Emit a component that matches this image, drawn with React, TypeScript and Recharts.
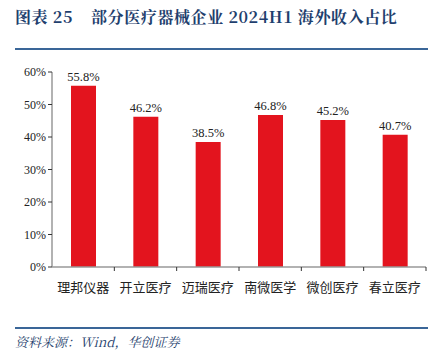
import React from 'react';
import { BarChart, Bar, XAxis, YAxis, LabelList } from 'recharts';

// 公司名称与2024H1海外收入占比(%)
const companies = ['理邦仪器', '开立医疗', '迈瑞医疗', '南微医学', '微创医疗', '春立医疗'];
const overseasShare = [55.8, 46.2, 38.5, 46.8, 45.2, 40.7];
const yTicks = [0, 10, 20, 30, 40, 50, 60];

const chartData = companies.map((name, i) => ({ name, value: overseasShare[i] }));

const serif = '"Times New Roman", "Liberation Serif", "DejaVu Serif", serif';
const sans = '"Noto Sans CJK SC", "Noto Sans", sans-serif';

const App: React.FC = () => {
  return (
    <div style={{ position: 'absolute', left: 0, top: 0, width: 435, height: 353, background: '#fff', overflow: 'hidden' }}>
      {/* 标题 */}
      <div
        style={{
          position: 'absolute',
          left: 15,
          top: 5,
          fontFamily: '"Noto Serif CJK SC", "Noto Sans CJK SC", serif',
          fontWeight: 700,
          fontSize: 16,
          letterSpacing: 0.6,
          color: '#1f3f6e',
          whiteSpace: 'nowrap',
        }}
      >
        图表 25<span style={{ display: 'inline-block', width: 18 }} />部分医疗器械企业 2024H1 海外收入占比
      </div>
      <div style={{ position: 'absolute', left: 15, top: 48, width: 413, height: 2, background: '#3a6698' }} />

      <div style={{ position: 'absolute', left: 0, top: 0 }}>
        <BarChart
          width={435}
          height={353}
          data={chartData}
          margin={{ top: 72, right: 9, bottom: 56, left: 12 }}
        >
          <YAxis
            width={40}
            domain={[0, 60]}
            ticks={yTicks}
            interval={0}
            tickFormatter={(v: number) => `${v}%`}
            axisLine={{ stroke: '#999999', strokeWidth: 1.5 }}
            tickLine={{ stroke: '#333333' }}
            tickSize={4}
            tick={{ fill: '#222222', fontSize: 12, fontFamily: serif }}
          />
          <XAxis
            dataKey="name"
            height={30}
            interval={0}
            axisLine={{ stroke: '#999999', strokeWidth: 1.5 }}
            tickLine={false}
            tick={{ fill: '#222222', fontSize: 13, fontFamily: sans }}
            tickMargin={10}
          />
          <Bar dataKey="value" fill="#e3141e" barSize={25} isAnimationActive={false}>
            <LabelList
              dataKey="value"
              position="top"
              offset={5}
              formatter={(v: number) => `${v}%`}
              style={{ fill: '#222222', fontSize: 12.5, fontFamily: serif }}
            />
          </Bar>
        </BarChart>
      </div>

      {/* 分类边界刻度 */}
      <svg style={{ position: 'absolute', left: 0, top: 0 }} width={435} height={353}>
        {companies.map((_, i) => {
          const step = (426 - 52) / companies.length;
          const x = 52 + step * (i + 1);
          return <line key={i} x1={x} x2={x} y1={267} y2={271} stroke="#333333" strokeWidth={1} />;
        })}
      </svg>

      <div style={{ position: 'absolute', left: 15, top: 327, width: 413, height: 2, background: '#3a6698' }} />
      <div
        style={{
          position: 'absolute',
          left: 15,
          top: 332,
          fontFamily: '"Noto Serif CJK SC", serif',
          fontStyle: 'italic',
          fontSize: 13,
          color: '#1f3f6e',
          whiteSpace: 'nowrap',
        }}
      >
        资料来源：Wind，华创证券
      </div>
    </div>
  );
};

export default App;
